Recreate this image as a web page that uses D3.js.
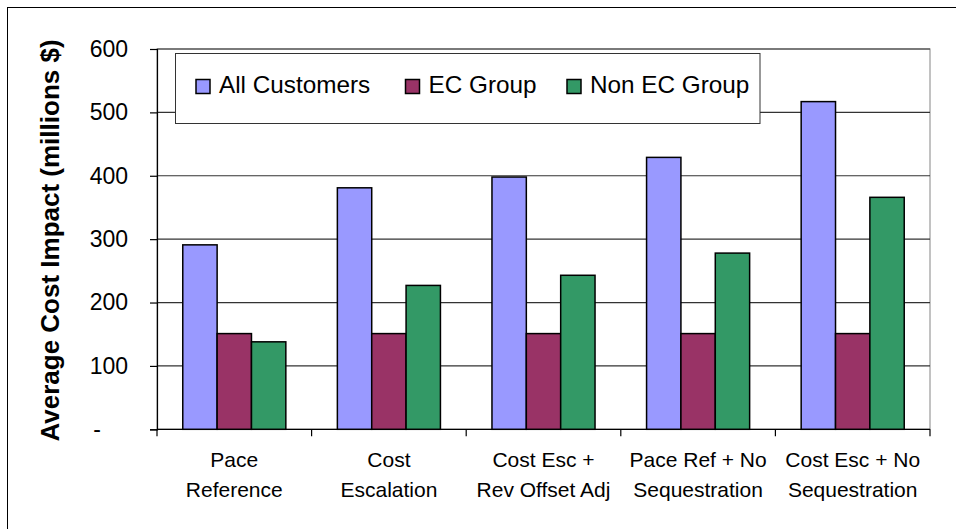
<!DOCTYPE html>
<html>
<head>
<meta charset="utf-8">
<script src="https://cdn.jsdelivr.net/npm/d3@7"></script>
<style>
  html, body { margin: 0; padding: 0; background: #fff; }
  svg { display: block; font-family: "Liberation Sans", Arial, sans-serif; }
</style>
</head>
<body>
<svg id="chart" width="956" height="529"></svg>
<script>
const categories = [
  ["Pace", "Reference"],
  ["Cost", "Escalation"],
  ["Cost Esc +", "Rev Offset Adj"],
  ["Pace Ref + No", "Sequestration"],
  ["Cost Esc + No", "Sequestration"]
];
const seriesNames = ["All Customers", "EC Group", "Non EC Group"];
const seriesColors = ["#9999FF", "#993366", "#339966"];
const allCustomers = [291, 381, 398, 429, 517];
const ecGroup = [151, 151, 151, 151, 151];
const nonEcGroup = [138, 227, 243, 278, 366];
const yTicks = [0, 100, 200, 300, 400, 500, 600];

const seriesValues = [allCustomers, ecGroup, nonEcGroup];
const catKeys = categories.map((c) => c.join(" "));

const W = 956, H = 529;
const plot = { left: 157, right: 930, top: 49, bottom: 429.3 };

const svg = d3.select("#chart");

// outer chart border (runs off the right/bottom edge)
svg.append("rect")
  .attr("x", 7.5).attr("y", 7.5)
  .attr("width", W + 20).attr("height", H + 20)
  .attr("fill", "#fff")
  .attr("stroke", "#000")
  .attr("stroke-width", 1);

const x0 = d3.scaleBand()
  .domain(catKeys)
  .range([plot.left, plot.right])
  .paddingInner(0)
  .paddingOuter(0);

const x1 = d3.scaleBand()
  .domain(seriesNames)
  .range([0, x0.bandwidth()])
  .paddingInner(0)
  .paddingOuter(0.75);

const y = d3.scaleLinear()
  .domain([0, 600])
  .range([plot.bottom, plot.top]);

// plot area frame
svg.append("rect")
  .attr("x", plot.left).attr("y", plot.top)
  .attr("width", plot.right - plot.left)
  .attr("height", plot.bottom - plot.top)
  .attr("fill", "none")
  .attr("stroke", "#9a9a9a")
  .attr("stroke-width", 1.2);

// gridlines
svg.append("g")
  .selectAll("line")
  .data(yTicks.filter((t) => t > 0))
  .join("line")
  .attr("x1", plot.left).attr("x2", plot.right)
  .attr("y1", (d) => y(d)).attr("y2", (d) => y(d))
  .attr("stroke", "#333")
  .attr("stroke-width", 1.2);

// y axis
const yAxis = d3.axisLeft(y)
  .tickValues(yTicks)
  .tickSize(7)
  .tickPadding(22)
  .tickFormat((d) => (d === 0 ? "" : d));

const yAxisG = svg.append("g")
  .attr("transform", `translate(${plot.left},0)`)
  .call(yAxis);
yAxisG.select(".domain").attr("stroke", "#000").attr("stroke-width", 1.2);
yAxisG.selectAll(".tick line").attr("stroke", "#000").attr("stroke-width", 1.2);
yAxisG.selectAll(".tick text")
  .attr("font-size", 23)
  .attr("font-family", "Liberation Sans, Arial, sans-serif")
  .attr("fill", "#000");

// zero shows as a dash (accounting format)
svg.append("text")
  .attr("x", 97)
  .attr("y", y(0))
  .attr("dy", "0.32em")
  .attr("text-anchor", "middle")
  .attr("font-size", 23)
  .text("-");

// x axis
const xAxisG = svg.append("g")
  .attr("transform", `translate(0,${plot.bottom})`);
xAxisG.append("line")
  .attr("x1", plot.left).attr("x2", plot.right)
  .attr("stroke", "#000").attr("stroke-width", 1.2);
const boundaries = catKeys.map((k) => x0(k)).concat([plot.right]);
xAxisG.selectAll("line.tick")
  .data(boundaries)
  .join("line")
  .attr("class", "tick")
  .attr("x1", (d) => d).attr("x2", (d) => d)
  .attr("y1", 0).attr("y2", 7)
  .attr("stroke", "#000").attr("stroke-width", 1.2);

const catLabels = xAxisG.selectAll("text")
  .data(categories)
  .join("text")
  .attr("x", (d, i) => x0(catKeys[i]) + x0.bandwidth() / 2)
  .attr("text-anchor", "middle")
  .attr("font-size", 21)
  .attr("fill", "#000");
catLabels.selectAll("tspan")
  .data((d) => d)
  .join("tspan")
  .attr("x", function () { return d3.select(this.parentNode).attr("x"); })
  .attr("y", (d, i) => 37.5 + i * 30)
  .text((d) => d);

// bars
const groups = svg.append("g")
  .selectAll("g")
  .data(catKeys)
  .join("g")
  .attr("transform", (d) => `translate(${x0(d)},0)`);

groups.selectAll("rect")
  .data((d, i) => seriesNames.map((s, j) => ({ s, j, v: seriesValues[j][i] })))
  .join("rect")
  .attr("x", (d) => x1(d.s))
  .attr("y", (d) => y(d.v))
  .attr("width", x1.bandwidth())
  .attr("height", (d) => y(0) - y(d.v))
  .attr("fill", (d) => seriesColors[d.j])
  .attr("stroke", "#000")
  .attr("stroke-width", 1.5);

// y axis title
svg.append("text")
  .attr("transform", "translate(50,240.5) rotate(-90)")
  .attr("text-anchor", "middle")
  .attr("dy", "0.35em")
  .attr("font-size", 26)
  .attr("font-weight", "bold")
  .text("Average Cost Impact (millions $)");

// legend
const legend = svg.append("g").attr("transform", "translate(175.5,53.5)");
legend.append("rect")
  .attr("width", 584.5).attr("height", 70)
  .attr("fill", "#fff")
  .attr("stroke", "#333")
  .attr("stroke-width", 1);

const legendX = [20.5, 230, 391.5];
const items = legend.selectAll("g.item")
  .data(seriesNames)
  .join("g")
  .attr("class", "item")
  .attr("transform", (d, i) => `translate(${legendX[i]},26)`);
items.append("rect")
  .attr("width", 14).attr("height", 14)
  .attr("fill", (d, i) => seriesColors[i])
  .attr("stroke", "#000")
  .attr("stroke-width", 1.5);
items.append("text")
  .attr("x", 23)
  .attr("y", 13.8)
  .attr("font-size", 24.3)
  .text((d) => d);
</script>
</body>
</html>
